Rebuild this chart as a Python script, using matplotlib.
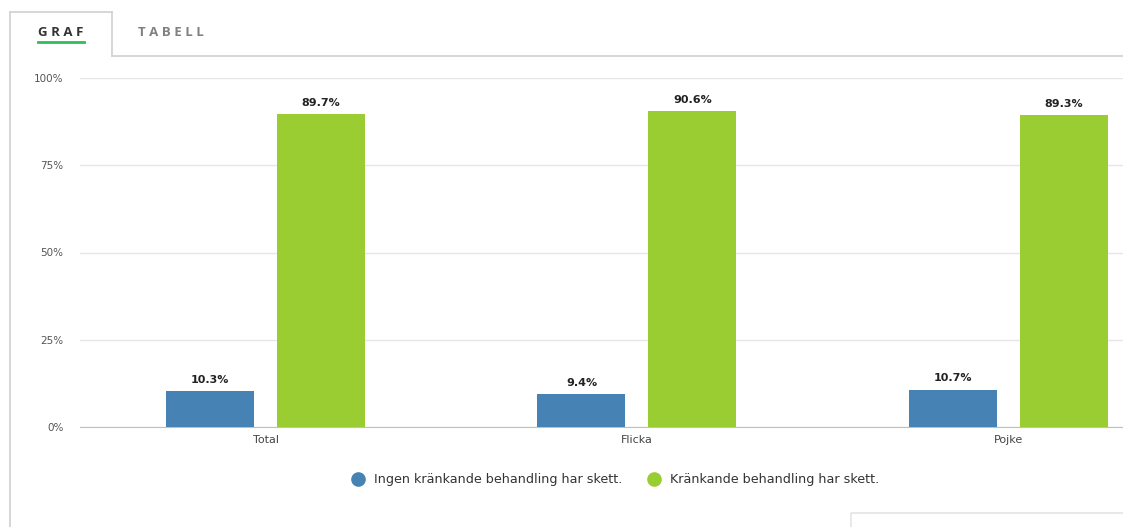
import numpy as np
import matplotlib
matplotlib.use("Agg")
from matplotlib import pyplot as plt
from matplotlib.lines import Line2D
from matplotlib.patches import Rectangle

categories = ["Total", "Flicka", "Pojke"]
ingen = [10.3, 9.4, 10.7]
krank = [89.7, 90.6, 89.3]
series_names = ["Ingen kränkande behandling har skett.", "Kränkande behandling har skett."]
y_ticks = [0, 25, 50, 75, 100]

BLUE = "#4682b4"
GREEN = "#9acd32"
W, H = 1123, 527

plt.rcParams["font.family"] = ["DejaVu Sans"]

fig = plt.figure(figsize=(W / 100, H / 100), dpi=100)


def px(x, y):
    """pixel coords (top-left origin) -> figure fraction"""
    return x / W, 1 - y / H


# panel frame with tabs
frame = fig.add_axes([0, 0, 1, 1])
frame.set_xlim(0, W)
frame.set_ylim(H, 0)
frame.axis("off")
gc = "#d0d0d0"
frame.plot([10, 10], [12, H], color=gc, lw=1.2)
frame.plot([10, 112], [12, 12], color=gc, lw=1.2)
frame.plot([112, 112], [12, 56], color=gc, lw=1.2)
frame.plot([112, W], [56, 56], color=gc, lw=1.2)
frame.add_patch(Rectangle((851, 513), 300, 30, fill=False, edgecolor="#e4e4e4", lw=1.2))
frame.text(61, 33, "G R A F", ha="center", va="center", fontsize=9.5,
           fontweight="bold", color="#333333", family="Open Sans")
frame.plot([38, 84], [42, 42], color="#2ebd59", lw=2)
frame.text(171, 33, "T A B E L L", ha="center", va="center", fontsize=9.5,
           fontweight="bold", color="#808080", family="Open Sans")

# chart
left, bottom = px(80, 427)
_, top = px(0, 78)
ax = fig.add_axes([left, bottom, 1 - left, top - bottom])
x = np.arange(len(categories))
off = 0.1495
bw = 0.237
b1 = ax.bar(x - off, ingen, bw, color=BLUE, zorder=3)
b2 = ax.bar(x + off, krank, bw, color=GREEN, zorder=3)
for bars, vals in ((b1, ingen), (b2, krank)):
    for bar, v in zip(bars, vals):
        ax.text(bar.get_x() + bar.get_width() / 2, v + 1.8, f"{v}%", ha="center",
                va="bottom", fontsize=8, fontweight="bold", color="#222222")

ax.set_xlim(-0.5, 2.309)
ax.set_ylim(0, 100)
ax.set_yticks(y_ticks)
ax.set_yticklabels([f"{t}%" for t in y_ticks])
ax.set_xticks(x)
ax.set_xticklabels(categories)
ax.tick_params(axis="y", length=0, pad=12, labelsize=7.5, labelcolor="#555555")
ax.tick_params(axis="x", length=0, pad=6, labelsize=8, labelcolor="#444444")
ax.grid(axis="y", color="#e6e6e6", lw=1, zorder=0)
for s in ("top", "right", "left"):
    ax.spines[s].set_visible(False)
ax.spines["bottom"].set_color("#c0c0c0")

handles = [Line2D([], [], marker="o", ls="", markersize=9.5, color=c) for c in (BLUE, GREEN)]
fig.legend(handles, series_names, loc="center", bbox_to_anchor=(612 / W, 1 - 480 / H),
           ncol=2, frameon=False, fontsize=9.2, handletextpad=0.25, columnspacing=1.5,
           labelcolor="#333333")

fig.savefig("out.png", dpi=100)
